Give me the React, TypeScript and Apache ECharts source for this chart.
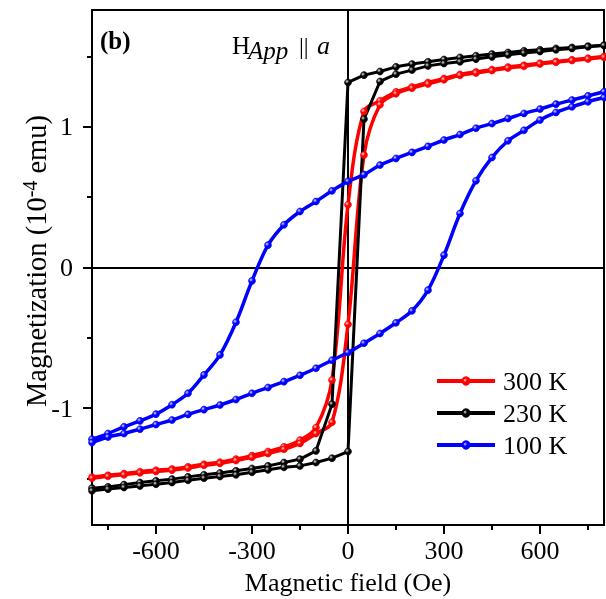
import React, { useEffect, useRef } from 'react';
import * as echarts from 'echarts';

const FONT = '"Liberation Serif", "Times New Roman", serif';

// Field values (Oe) for the sweep from +800 down to -800 and back up
const FIELD_DOWN = [800, 750, 700, 650, 600, 550, 500, 450, 400, 350, 300, 250, 200, 150, 100, 50, 0,
  -50, -100, -150, -200, -250, -300, -350, -400, -450, -500, -550, -600, -650, -700, -750, -800];
const FIELD_UP = [-800, -750, -700, -650, -600, -550, -500, -450, -400, -350, -300, -250, -200, -150, -100, -50, 0,
  50, 100, 150, 200, 250, 300, 350, 400, 450, 500, 550, 600, 650, 700, 750, 800];

// 300 K (10^-4 emu)
const M300_DOWN = [1.5, 1.487, 1.476, 1.464, 1.452, 1.437, 1.424, 1.406, 1.39, 1.372, 1.343, 1.315, 1.283, 1.248, 1.185, 1.109, 0.446,
  -0.8, -1.137, -1.227, -1.275, -1.308, -1.337, -1.362, -1.384, -1.398, -1.417, -1.432, -1.441, -1.451, -1.465, -1.477, -1.49];
const M300_UP = [-1.497, -1.484, -1.473, -1.459, -1.449, -1.44, -1.425, -1.406, -1.392, -1.372, -1.349, -1.322, -1.292, -1.25, -1.18, -1.1, -0.403,
  0.8, 1.157, 1.235, 1.275, 1.305, 1.335, 1.366, 1.382, 1.4, 1.418, 1.43, 1.447, 1.459, 1.471, 1.482, 1.494];

// 230 K
const M230_DOWN = [1.58, 1.573, 1.564, 1.557, 1.547, 1.54, 1.528, 1.517, 1.505, 1.493, 1.478, 1.462, 1.446, 1.426, 1.393, 1.367, 1.315,
  -0.971, -1.303, -1.362, -1.386, -1.41, -1.428, -1.445, -1.46, -1.473, -1.488, -1.504, -1.516, -1.528, -1.543, -1.559, -1.568];
const M230_UP = [-1.587, -1.575, -1.563, -1.552, -1.54, -1.528, -1.512, -1.497, -1.485, -1.473, -1.455, -1.438, -1.42, -1.41, -1.386, -1.355, -1.308,
  1.055, 1.322, 1.374, 1.403, 1.433, 1.45, 1.462, 1.481, 1.497, 1.512, 1.524, 1.535, 1.547, 1.557, 1.569, 1.578];

// 100 K
const M100_DOWN = [1.249, 1.22, 1.19, 1.161, 1.126, 1.095, 1.059, 1.023, 0.99, 0.945, 0.906, 0.861, 0.818, 0.775, 0.728, 0.66, 0.612,
  0.545, 0.469, 0.398, 0.304, 0.159, -0.095, -0.389, -0.621, -0.763, -0.894, -0.975, -1.042, -1.09, -1.132, -1.18, -1.22];
const M100_UP = [-1.244, -1.205, -1.18, -1.149, -1.116, -1.084, -1.044, -1.01, -0.977, -0.938, -0.894, -0.853, -0.811, -0.766, -0.716, -0.659, -0.604,
  -0.538, -0.469, -0.393, -0.308, -0.161, 0.088, 0.384, 0.617, 0.782, 0.901, 0.975, 1.048, 1.102, 1.142, 1.178, 1.208];

const LEGEND_NAMES = ['300 K', '230 K', '100 K'];
const X_MAJOR = [-600, -300, 0, 300, 600];
const X_MINOR = [-750, -450, -150, 150, 450, 750];
const Y_MAJOR = [-1, 0, 1];
const Y_MINOR = [-1.5, -0.5, 0.5, 1.5];

const pair = (xs: number[], ys: number[]) => xs.map((x, i) => [x, ys[i]]);

const markerFill = (base: string, hi: string) =>
  new echarts.graphic.RadialGradient(0.35, 0.35, 0.7, [
    { offset: 0, color: hi },
    { offset: 0.45, color: base },
    { offset: 1, color: base },
  ]);

export default function App() {
  const ref = useRef<HTMLDivElement>(null);
  useEffect(() => {
    if (!ref.current) return;
    const chart = echarts.init(ref.current, undefined, { renderer: 'svg' });

    const mk = (name: string, data: number[][], color: string, hi: string, smooth: number | boolean, width: number, extra: any = {}) => ({
      type: 'line',
      name,
      data,
      smooth,
      symbol: 'circle',
      symbolSize: 7,
      showSymbol: true,
      lineStyle: { color, width },
      itemStyle: { color: markerFill(color, hi), borderColor: color, borderWidth: 0.6 },
      emphasis: { disabled: true },
      z: 3,
      ...extra,
    });

    const series: any[] = [
      mk(LEGEND_NAMES[0], pair(FIELD_DOWN, M300_DOWN), '#ff0000', '#ffd6d6', 0.35, 3.5, {
        markLine: {
          silent: true,
          symbol: ['none', 'none'],
          label: { show: false },
          lineStyle: { color: '#000', width: 2, type: 'solid' },
          data: [{ xAxis: 0 }, { yAxis: 0 }],
          z: 1,
        },
      }),
      mk(LEGEND_NAMES[0], pair(FIELD_UP, M300_UP), '#ff0000', '#ffd6d6', 0.35, 3.5),
      mk(LEGEND_NAMES[1], pair(FIELD_DOWN, M230_DOWN), '#000000', '#e0e0e0', false, 3),
      mk(LEGEND_NAMES[1], pair(FIELD_UP, M230_UP), '#000000', '#e0e0e0', false, 3),
      mk(LEGEND_NAMES[2], pair(FIELD_DOWN, M100_DOWN), '#0000ff', '#d8d8ff', 0.35, 3.5),
      mk(LEGEND_NAMES[2], pair(FIELD_UP, M100_UP), '#0000ff', '#d8d8ff', 0.35, 3.5),
    ];

    const tickStyle = { color: '#000', width: 2 };
    const labelStyle = { fontSize: 26, color: '#000', fontFamily: FONT };
    const noLine = { show: false, onZero: false };

    chart.setOption({
      animation: false,
      grid: {
        left: 92, top: 10, width: 512, height: 515,
        show: true, borderColor: '#000', borderWidth: 2, backgroundColor: 'transparent',
      },
      legend: {
        orient: 'vertical',
        left: 435,
        top: 368,
        padding: 0,
        itemWidth: 58,
        itemHeight: 9,
        itemGap: 6,
        data: LEGEND_NAMES,
        textStyle: { ...labelStyle, padding: [0, 0, 0, 3] },
        lineStyle: { width: 4 },
        selectedMode: false,
      },
      xAxis: [
        {
          type: 'value', min: -800, max: 800, position: 'bottom',
          axisLine: noLine, splitLine: { show: false },
          axisTick: { show: true, customValues: X_MAJOR, length: 9, lineStyle: tickStyle },
          axisLabel: { show: true, customValues: X_MAJOR, margin: 13, lineHeight: 24, ...labelStyle },
        },
        {
          type: 'value', min: -800, max: 800, position: 'bottom',
          axisLine: noLine, splitLine: { show: false },
          axisTick: { show: true, customValues: X_MINOR, length: 5, lineStyle: tickStyle },
          axisLabel: { show: false },
        },
      ],
      yAxis: [
        {
          type: 'value', min: -1.83, max: 1.83, position: 'left',
          axisLine: noLine, splitLine: { show: false },
          axisTick: { show: true, customValues: Y_MAJOR, length: 9, lineStyle: tickStyle },
          axisLabel: { show: true, customValues: Y_MAJOR, margin: 19, ...labelStyle },
        },
        {
          type: 'value', min: -1.83, max: 1.83, position: 'left',
          axisLine: noLine, splitLine: { show: false },
          axisTick: { show: true, customValues: Y_MINOR, length: 5, lineStyle: tickStyle },
          axisLabel: { show: false },
        },
      ],
      series,
      graphic: [
        {
          type: 'text', left: 100, top: 28,
          style: { text: '(b)', font: `bold 25px ${FONT}`, fill: '#000' },
        },
        {
          type: 'text', x: 232, y: 45.5,
          style: { text: 'H', font: `25px ${FONT}`, fill: '#000', verticalAlign: 'middle' },
        },
        {
          type: 'text', x: 248, y: 50,
          style: { text: 'App', font: `italic 25px ${FONT}`, fill: '#000', verticalAlign: 'middle' },
        },
        {
          type: 'text', x: 299, y: 45.5,
          style: { text: '||', font: `24px ${FONT}`, fill: '#000', verticalAlign: 'middle' },
        },
        {
          type: 'text', x: 317, y: 45.5,
          style: { text: 'a', font: `italic 26px ${FONT}`, fill: '#000', verticalAlign: 'middle' },
        },
        {
          type: 'text', x: 348, y: 582,
          style: { text: 'Magnetic field (Oe)', font: `26px ${FONT}`, fill: '#000', align: 'center', verticalAlign: 'middle', lineHeight: 24 },
        },
        {
          type: 'text', x: 36, y: 261, rotation: Math.PI / 2,
          style: {
            text: '{a|Magnetization (10}{s|-4}{a| emu)}',
            align: 'center', verticalAlign: 'middle', fill: '#000',
            rich: {
              a: { fontSize: 28.5, fontFamily: FONT, lineHeight: 32, fill: '#000' },
              s: { fontSize: 20, fontFamily: FONT, lineHeight: 18, verticalAlign: 'top', fill: '#000' },
            },
          },
        },
      ],
    });
    return () => chart.dispose();
  }, []);
  return <div ref={ref} style={{ position: 'fixed', left: 0, top: 0, width: 606, height: 599 }} />;
}
